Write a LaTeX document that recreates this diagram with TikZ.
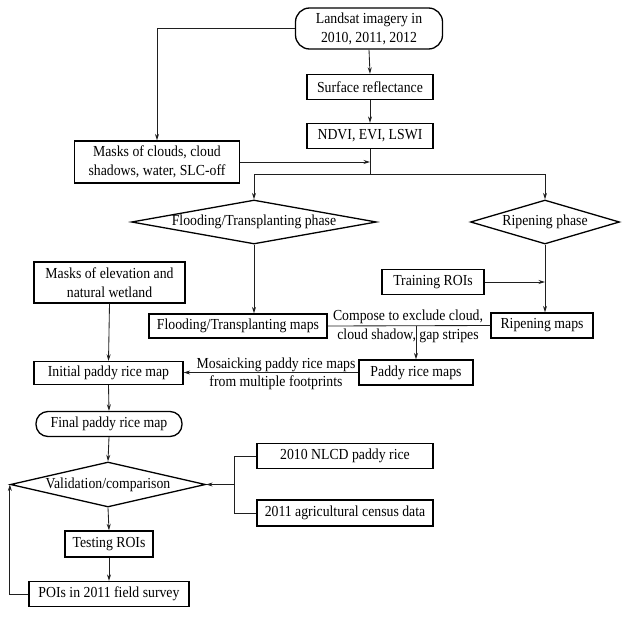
\documentclass[tikz,border=0pt]{standalone}
\usepackage{fontspec}
\setmainfont[FakeStretch=0.9]{Liberation Serif}
\usetikzlibrary{shapes.geometric,arrows.meta}
\begin{document}
\begin{tikzpicture}[x=1pt,y=-1pt,
  font=\fontsize{15.3}{19}\selectfont,
  box/.style={draw=black,line width=1.3pt,rectangle,inner sep=0pt,align=center},
  rbox/.style={box,rounded corners=14pt},
  dia/.style={draw=black,line width=1.3pt,diamond,inner sep=0pt},
  conn/.style={draw=black!88,line width=0.85pt},
  arr/.style={conn,-{Stealth[length=6.5pt,width=4pt]}},
  lbl/.style={inner sep=0pt,align=center}]
\useasboundingbox (0,0) rectangle (624,616);
% nodes
\node[rbox,minimum width=147,minimum height=41] (land) at (369,28.5) {Landsat imagery in\\2010, 2011, 2012};
\node[box,minimum width=126,minimum height=25] (sr) at (370,87) {Surface reflectance};
\node[box,minimum width=126,minimum height=25] (ndvi) at (370,136) {NDVI, EVI, LSWI};
\node[box,minimum width=165,minimum height=42] (mc) at (157,162) {Masks of clouds, cloud\\shadows, water, SLC-off};
\node[dia,minimum width=245,minimum height=44,label={center:Flooding/Transplanting phase}] (fd) at (254,222) {};
\node[dia,minimum width=149,minimum height=44,label={center:Ripening phase}] (rd) at (545,222) {};
\node[box,minimum width=151,minimum height=41,text depth=0pt] (me) at (109.5,282.5) {Masks of elevation and\\natural wetland};
\node[box,minimum width=102,minimum height=25] (tr) at (433,282) {Training ROIs};
\node[box,minimum width=178,minimum height=24] (fm) at (238,326) {Flooding/Transplanting maps};
\node[box,minimum width=102,minimum height=25] (rm) at (542,325.5) {Ripening maps};
\node[box,minimum width=114,minimum height=25] (pm) at (416,372.5) {Paddy rice maps};
\node[box,minimum width=149,minimum height=23] (ip) at (108.5,373) {Initial paddy rice map};
\node[rbox,minimum width=146,minimum height=25,rounded corners=12pt] (fp) at (109,424) {Final paddy rice map};
\node[dia,minimum width=195,minimum height=45,label={center:Validation/comparison}] (vc) at (108,484.5) {};
\node[box,minimum width=176,minimum height=25] (nl) at (345,456) {2010 NLCD paddy rice};
\node[box,minimum width=176,minimum height=26] (ag) at (345,513) {2011 agricultural census data};
\node[box,minimum width=88,minimum height=26] (ts) at (109,544) {Testing ROIs};
\node[box,minimum width=160,minimum height=25] (po) at (109,594) {POIs in 2011 field survey};
% labels
\node[lbl] (c1) at (408,317) {Compose to exclude cloud,};
\node[lbl] (c2) at (408,336) {cloud shadow, gap stripes};
\node[lbl] (m1) at (276,365) {Mosaicking paddy rice maps};
\node[lbl] (m2) at (276,383) {from multiple footprints};
% junctions
\coordinate (j1) at (370,174);
\coordinate (j2) at (416,325.5);
\coordinate (j3) at (234,484.5);
% connectors
\draw[arr] (land.west) -| (mc.north);
\draw[arr] (land.south) -- (sr.north);
\draw[arr] (sr.south) -- (ndvi.north);
\draw[conn] (ndvi.south) -- (j1);
\draw[arr] (mc.east) -- (mc.east -| j1);
\draw[arr] (j1) -| (fd.north);
\draw[arr] (j1) -| (rd.north);
\draw[arr] (fd.south) -- (fd.south |- fm.north);
\draw[arr] (rd.south) -- (rd.south |- rm.north);
\draw[arr] (tr.east) -- (tr.east -| rd.south);
\draw[conn] (fm.east) -- (rm.west);
\draw[arr] (j2) -- (pm.north);
\draw[arr] (pm.west) -- (pm.west -| ip.east);
\draw[arr] (me.south) -- (ip.north);
\draw[arr] (ip.south) -- (fp.north);
\draw[arr] (fp.south) -- (vc.north);
\draw[conn] (nl.west) -| (j3);
\draw[conn] (ag.west) -| (j3);
\draw[arr] (j3) -- (vc.east);
\draw[arr] (vc.south) -- (ts.north);
\draw[arr] (ts.south) -- (po.north);
\draw[arr] (po.west) -| (vc.west);
\end{tikzpicture}
\end{document}
